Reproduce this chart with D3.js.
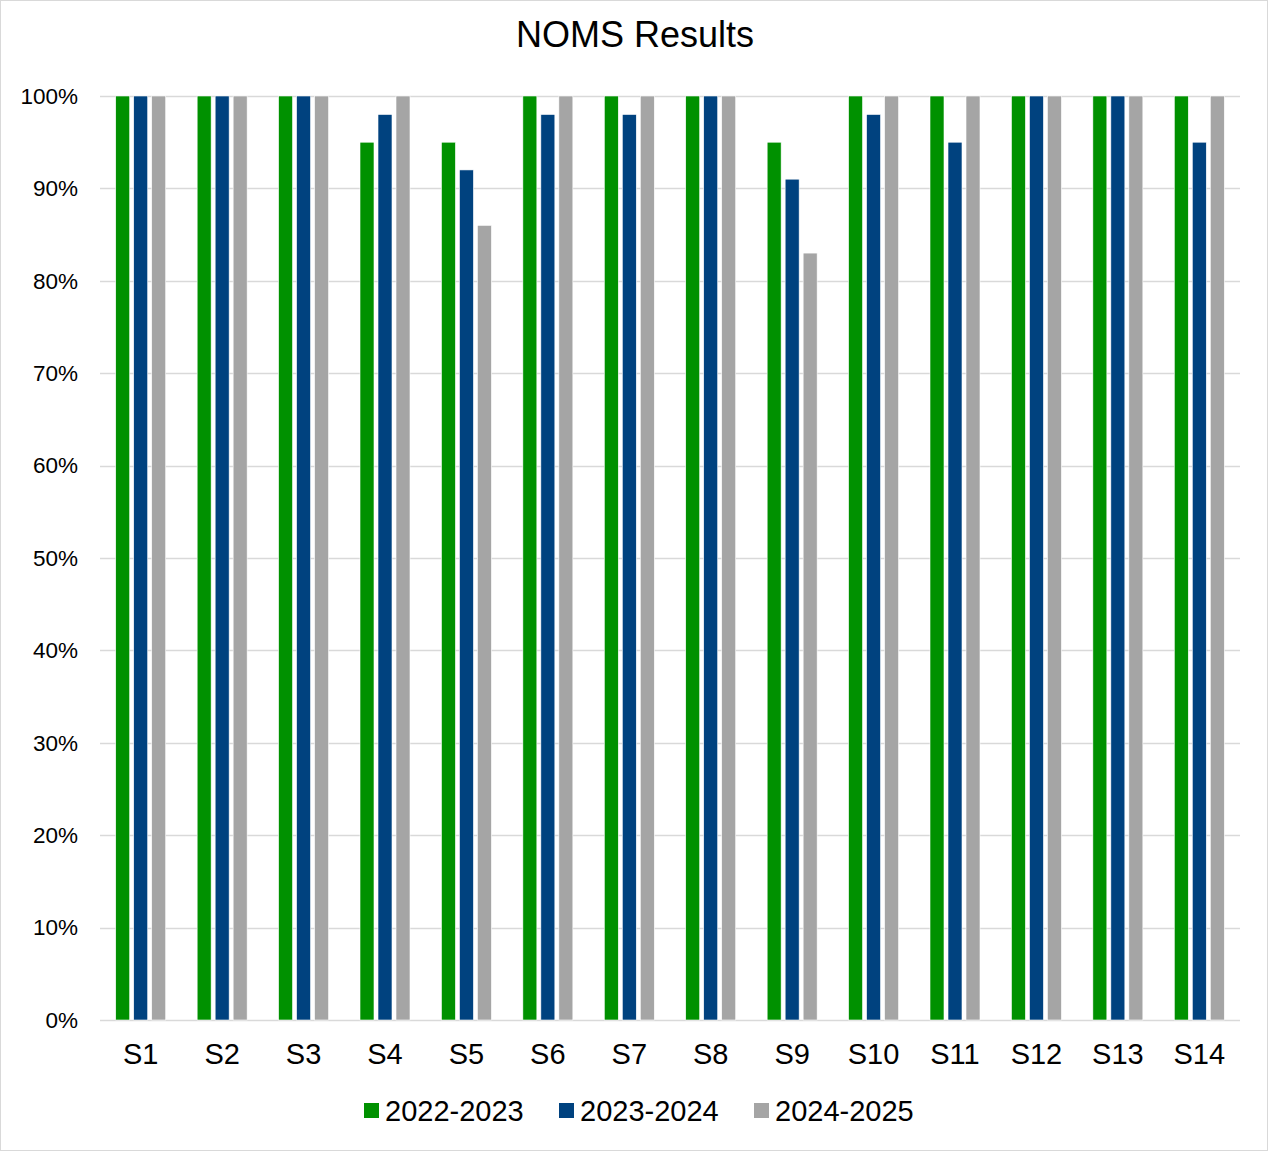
<!DOCTYPE html>
<html>
<head>
<meta charset="utf-8">
<script src="https://cdn.jsdelivr.net/npm/d3@7"></script>
<style>
  body { margin: 0; background: #fff; }
  svg { display: block; font-family: "Liberation Sans", Arial, sans-serif; }
</style>
</head>
<body>
<svg id="chart" width="1268" height="1151"></svg>
<script>
var categories = ["S1","S2","S3","S4","S5","S6","S7","S8","S9","S10","S11","S12","S13","S14"];
var seriesNames = ["2022-2023","2023-2024","2024-2025"];
var s2022 = [100,100,100,95,95,100,100,100,95,100,100,100,100,100];
var s2023 = [100,100,100,98,92,98,98,100,91,98,95,100,100,95];
var s2024 = [100,100,100,100,86,100,100,100,83,100,100,100,100,100];
var yTicks = [0,10,20,30,40,50,60,70,80,90,100];
var colors = ["#009100","#00427f","#a5a5a5"];

var seriesVals = [s2022, s2023, s2024];

var svg = d3.select("#chart"),
    W = 1268, H = 1151,
    margin = {top: 96, right: 28, bottom: 131, left: 100},
    width = W - margin.left - margin.right,
    height = H - margin.top - margin.bottom;

// outer border
svg.append("rect")
  .attr("x", 0.5).attr("y", 0.5)
  .attr("width", W - 1).attr("height", H - 1)
  .attr("fill", "#fff").attr("stroke", "#d9d9d9");

svg.append("text")
  .attr("x", 635).attr("y", 47)
  .attr("text-anchor", "middle")
  .attr("font-size", "36px")
  .attr("fill", "#000")
  .text("NOMS Results");

var g = svg.append("g").attr("transform", "translate(" + margin.left + "," + margin.top + ")");

var x = d3.scaleBand().domain(categories).range([0, width]).paddingInner(0).paddingOuter(0);
var y = d3.scaleLinear().domain([0, 100]).range([height, 0]);

// gridlines
g.selectAll(".grid").data(yTicks).enter().append("line")
  .attr("x1", 0).attr("x2", width)
  .attr("y1", function(d){ return Math.round(y(d)) + 0.5; })
  .attr("y2", function(d){ return Math.round(y(d)) + 0.5; })
  .attr("stroke", "#d9d9d9").attr("stroke-width", 1.5);

// y labels
g.selectAll(".ylab").data(yTicks).enter().append("text")
  .attr("x", -22).attr("y", function(d){ return y(d); })
  .attr("dy", "0.35em")
  .attr("text-anchor", "end")
  .attr("font-size", "22.5px")
  .attr("fill", "#000")
  .text(function(d){ return d + "%"; });

// bars
var barW = 14, gap = 4;
var groupW = barW * 3 + gap * 2;
var rows = [];
categories.forEach(function(c, i){
  seriesVals.forEach(function(s, j){
    rows.push({cat: c, s: j, v: s[i]});
  });
});

g.selectAll(".bar").data(rows).enter().append("rect")
  .attr("x", function(d){ return x(d.cat) + (x.bandwidth() - groupW) / 2 + d.s * (barW + gap); })
  .attr("y", function(d){ return y(d.v); })
  .attr("width", barW)
  .attr("height", function(d){ return height - y(d.v); })
  .attr("fill", function(d){ return colors[d.s]; })
  .attr("stroke", "#fff").attr("stroke-width", 0.6);

// x axis labels
var xAxis = d3.axisBottom(x).tickSize(0).tickPadding(23);
var xa = g.append("g").attr("transform", "translate(0," + height + ")").call(xAxis);
xa.select(".domain").remove();
xa.selectAll("text")
  .attr("font-size", "29px")
  .attr("font-family", "Liberation Sans, Arial, sans-serif")
  .attr("fill", "#000");

// legend
var legX = [364, 559, 754];
var leg = svg.selectAll(".leg").data(seriesNames).enter().append("g")
  .attr("transform", function(d, i){ return "translate(" + legX[i] + ",1103)"; });
leg.append("rect").attr("width", 15).attr("height", 15)
  .attr("fill", function(d, i){ return colors[i]; });
leg.append("text").attr("x", 21).attr("y", 8).attr("dy", "0.35em")
  .attr("font-size", "29px").attr("fill", "#000")
  .text(function(d){ return d; });
</script>
</body>
</html>
